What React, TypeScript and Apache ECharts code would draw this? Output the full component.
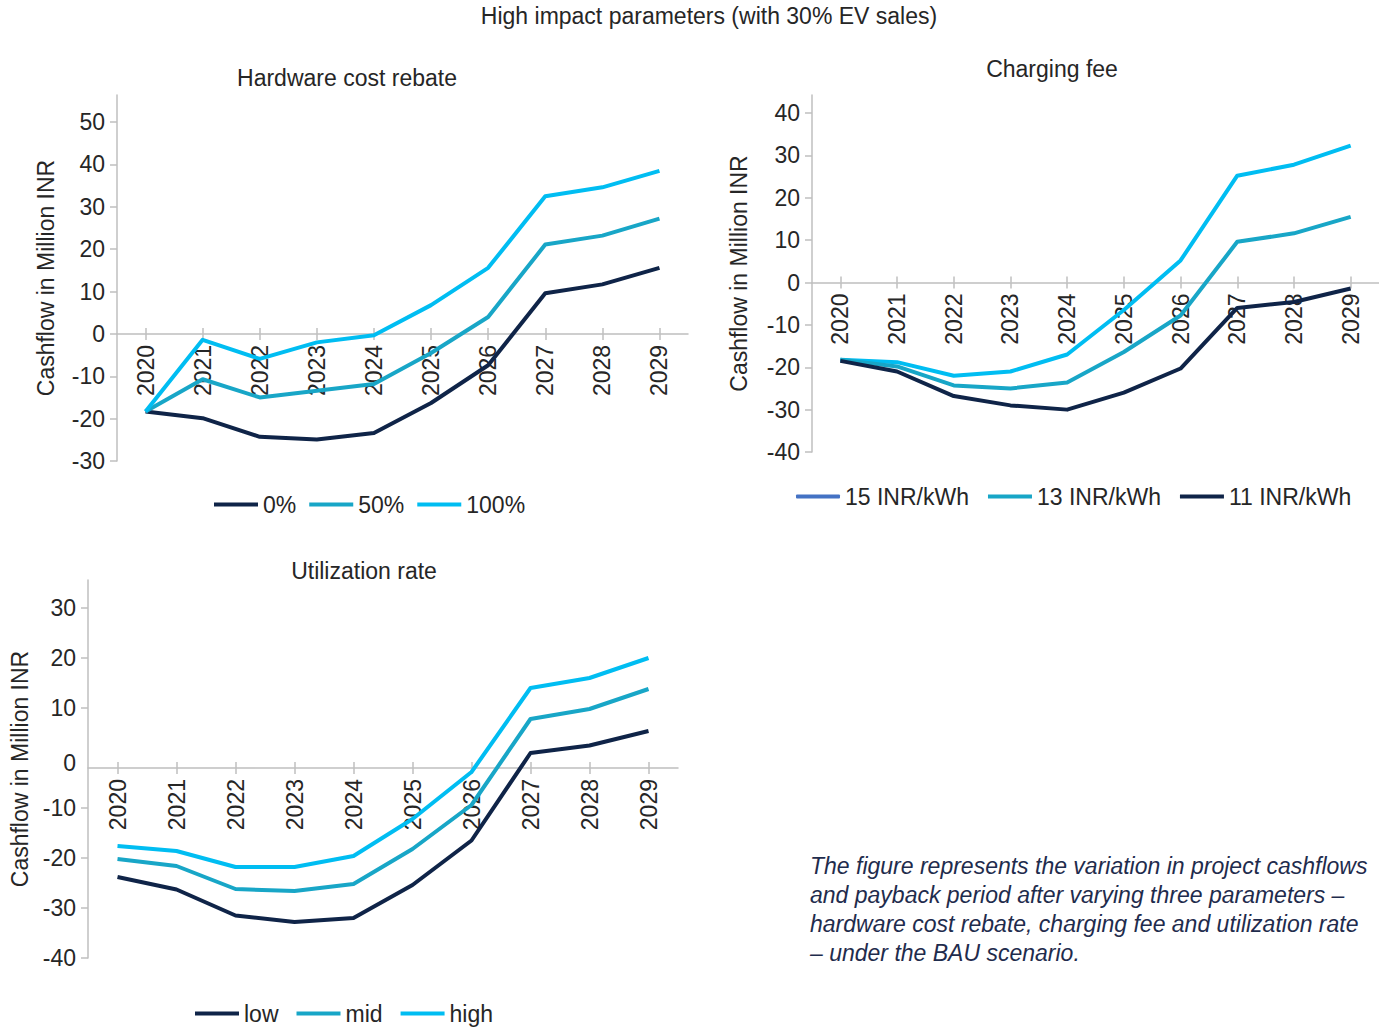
import React, { useEffect, useRef } from 'react';
import * as echarts from 'echarts';

const years = ['2020', '2021', '2022', '2023', '2024', '2025', '2026', '2027', '2028', '2029'];

// Hardware cost rebate
const rebate0 = [-18.3, -19.9, -24.3, -24.9, -23.4, -16.3, -7.4, 9.6, 11.7, 15.6];
const rebate50 = [-18.3, -10.7, -15.0, -13.4, -11.8, -4.5, 4.0, 21.1, 23.2, 27.2];
const rebate100 = [-18.3, -1.4, -5.9, -2.0, -0.3, 6.8, 15.6, 32.5, 34.6, 38.5];

// Charging fee
const fee15 = [-18.2, -18.8, -22.0, -21.0, -17.0, -6.5, 5.2, 25.2, 27.8, 32.3];
const fee13 = [-18.2, -19.8, -24.3, -25.0, -23.6, -16.4, -7.8, 9.6, 11.6, 15.5];
const fee11 = [-18.5, -21.0, -26.8, -29.0, -30.0, -26.0, -20.3, -6.0, -4.6, -1.4];

// Utilization rate
const utilLow = [-23.8, -26.3, -31.5, -32.8, -32.0, -25.4, -16.5, 1.0, 2.5, 5.4];
const utilMid = [-20.2, -21.6, -26.2, -26.6, -25.2, -18.2, -9.4, 7.8, 9.8, 13.8];
const utilHigh = [-17.6, -18.6, -21.8, -21.8, -19.6, -12.2, -2.8, 14.0, 16.0, 20.0];

const ticks1 = [-30, -20, -10, 0, 10, 20, 30, 40, 50];
const ticks2 = [-40, -30, -20, -10, 0, 10, 20, 30, 40];
const ticks3 = [-40, -30, -20, -10, 0, 10, 20, 30];

const mainTitle = 'High impact parameters (with 30% EV sales)';
const titles = ['Hardware cost rebate', 'Charging fee', 'Utilization rate'];
const yName = 'Cashflow in Million INR';
const caption = [
  'The figure represents the variation in project cashflows',
  'and payback period after varying three parameters –',
  'hardware cost rebate, charging fee and utilization rate',
  '– under the BAU scenario.',
];

const DARK = '#0f2448';
const MID = '#18a6c7';
const LIGHT = '#00bdf2';
const LEGEND_BLUE = '#4472c4';
const TEXT = '#262626';
const AXIS = '#bfbfbf';
const FONT = '"Liberation Sans", Arial, sans-serif';
const FS = 23;

const box1 = { left: 117, top: 95, width: 571, height: 366, min: -30, max: 56.4, cross: 0 };
const box2 = { left: 812, top: 95, width: 567, height: 357, min: -40, max: 44.25, cross: 0 };
const box3 = { left: 88, top: 580, width: 590, height: 378, min: -40, max: 35.6, cross: -2 };

// distance (px) from the bottom of a plot box to the value where the x axis crosses
function crossFromBottom(b: typeof box1) {
  return (b.height * (b.cross - b.min)) / (b.max - b.min);
}

function mainX(gridIndex: number, b: typeof box1) {
  return {
    type: 'category',
    gridIndex,
    data: years,
    boundaryGap: true,
    position: 'bottom',
    offset: -crossFromBottom(b),
    axisLine: { show: true, onZero: false, lineStyle: { color: AXIS, width: 1.5 } },
    axisTick: { show: true, alignWithLabel: true, interval: 0, length: 6, lineStyle: { color: AXIS, width: 1.5 } },
    axisLabel: { show: true, interval: 0, rotate: 90, margin: 11, color: TEXT, fontSize: FS, fontFamily: FONT },
    splitLine: { show: false },
  };
}

function tickX(gridIndex: number, b: typeof box1) {
  return {
    type: 'category',
    gridIndex,
    data: years,
    boundaryGap: true,
    position: 'top',
    offset: -(b.height - crossFromBottom(b)),
    axisLine: { show: false, onZero: false },
    axisTick: { show: true, alignWithLabel: true, interval: 0, length: 6, lineStyle: { color: AXIS, width: 1.5 } },
    axisLabel: { show: false },
    splitLine: { show: false },
  };
}

function valY(gridIndex: number, b: typeof box1, labels: number[], tickVals: number[], nameGap: number, shiftZero = false) {
  return {
    type: 'value',
    gridIndex,
    min: b.min,
    max: b.max,
    position: 'left',
    name: yName,
    nameLocation: 'middle',
    nameGap,
    nameTextStyle: { color: TEXT, fontSize: FS, fontFamily: FONT },
    axisLine: { show: true, onZero: false, lineStyle: { color: AXIS, width: 1.5 } },
    axisTick: { show: true, length: 7, customValues: tickVals, lineStyle: { color: AXIS, width: 1.5 } },
    axisLabel: {
      show: true,
      margin: 12,
      customValues: labels,
      color: TEXT,
      fontSize: FS,
      fontFamily: FONT,
      formatter: (v: number) => (shiftZero && v === 0 ? '{z|0}' : String(v)),
      rich: { z: { padding: [9, 0, 0, 0], color: TEXT, fontSize: FS, fontFamily: FONT } },
    },
    splitLine: { show: false },
  };
}

function line(name: string, data: number[], color: string, xAxisIndex: number, yAxisIndex: number, z: number) {
  return {
    type: 'line',
    name,
    data,
    xAxisIndex,
    yAxisIndex,
    symbol: 'none',
    showSymbol: false,
    smooth: false,
    z,
    lineStyle: { color, width: 4, join: 'round' },
    itemStyle: { color },
  };
}

function legend(left: number, top: number, itemGap: number, data: any[]) {
  return {
    left,
    top,
    padding: 0,
    orient: 'horizontal',
    itemWidth: 44,
    itemHeight: 4,
    itemGap,
    icon: 'rect',
    data: data.map((d) => ({ icon: 'rect', ...d })),
    textStyle: { color: TEXT, fontSize: FS, fontFamily: FONT },
    selectedMode: false,
  };
}

function txt(text: string, x: number, y: number, opts: any = {}) {
  const align = opts.align || 'center';
  return {
    type: 'text',
    x,
    y,
    silent: true,
    style: {
      text,
      fill: opts.fill || TEXT,
      font: opts.font || `${FS}px ${FONT}`,
      textAlign: align,
      align,
      textVerticalAlign: 'middle',
      verticalAlign: 'middle',
    },
  };
}

export default function App() {
  const ref = useRef<HTMLDivElement>(null);

  useEffect(() => {
    if (!ref.current) return;
    const chart = echarts.init(ref.current, null, { renderer: 'svg' });
    const g = (b: typeof box1) => ({ left: b.left, top: b.top, width: b.width, height: b.height, containLabel: false });

    const option: any = {
      animation: false,
      backgroundColor: '#ffffff',
      textStyle: { fontFamily: FONT },
      grid: [g(box1), g(box2), g(box3)],
      xAxis: [mainX(0, box1), mainX(1, box2), mainX(2, box3), tickX(0, box1), tickX(1, box2), tickX(2, box3)],
      yAxis: [
        valY(0, box1, ticks1, ticks1, 59.5),
        valY(1, box2, ticks2, ticks2, 61.5),
        valY(2, box3, ticks3, ticks3.filter((t) => t !== 0), 56.5, true),
      ],
      legend: [
        legend(214, 493, 13, [{ name: '0%' }, { name: '50%' }, { name: '100%' }]),
        legend(796, 485, 19, [
          { name: '15 INR/kWh', icon: 'roundRect', itemStyle: { color: LEGEND_BLUE } },
          { name: '13 INR/kWh' },
          { name: '11 INR/kWh' },
        ]),
        legend(195, 1002, 18, [{ name: 'low' }, { name: 'mid' }, { name: 'high' }]),
      ],
      series: [
        line('0%', rebate0, DARK, 0, 0, 2),
        line('50%', rebate50, MID, 0, 0, 3),
        line('100%', rebate100, LIGHT, 0, 0, 4),
        line('15 INR/kWh', fee15, LIGHT, 1, 1, 2),
        line('13 INR/kWh', fee13, MID, 1, 1, 3),
        line('11 INR/kWh', fee11, DARK, 1, 1, 4),
        line('low', utilLow, DARK, 2, 2, 2),
        line('mid', utilMid, MID, 2, 2, 3),
        line('high', utilHigh, LIGHT, 2, 2, 4),
      ],
      graphic: {
        elements: [
          txt(mainTitle, 709, 16),
          txt(titles[0], 347, 78),
          txt(titles[1], 1052, 69),
          txt(titles[2], 364, 571),
          ...caption.map((c, i) =>
            txt(c, 810, 866 + i * 29, { align: 'left', fill: '#1f2c4d', font: `italic 23px ${FONT}` })
          ),
        ],
      },
    };

    chart.setOption(option);
    return () => chart.dispose();
  }, []);

  return (
    <div
      ref={ref}
      style={{ position: 'absolute', left: 0, top: 0, width: 1379, height: 1029, background: '#fff' }}
    />
  );
}
